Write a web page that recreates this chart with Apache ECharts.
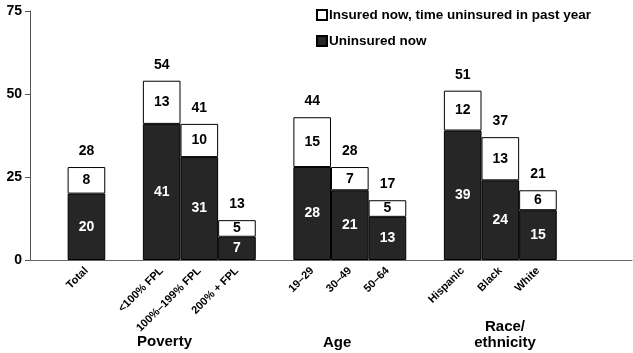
<!DOCTYPE html>
<html>
<head>
<meta charset="utf-8">
<script src="https://cdn.jsdelivr.net/npm/echarts@6/dist/echarts.min.js"></script>
<style>
  html, body { margin: 0; padding: 0; background: #fff; }
  #chart { width: 633px; height: 353px; }
</style>
</head>
<body>
<div id="chart"></div>
<script>
// categories (blank entries are the gaps between groups)
var categories = ['', 'Total', '', '<100% FPL', '100%\u2013199% FPL', '200% + FPL', '',
  '19\u201329', '30\u201349', '50\u201364', '', 'Hispanic', 'Black', 'White', '', ''];
var uninsuredNow = [null, 20, null, 41, 31, 7, null, 28, 21, 13, null, 39, 24, 15, null, null];
var insuredGap = [null, 8, null, 13, 10, 5, null, 15, 7, 5, null, 12, 13, 6, null, null];
var totals = [null, 28, null, 54, 41, 13, null, 44, 28, 17, null, 51, 37, 21, null, null];
var yTicks = [0, 25, 50, 75];

var font = 'Liberation Sans, Arial, sans-serif';

var chart = echarts.init(document.getElementById('chart'));
var option = {
  animation: false,
  textStyle: { fontFamily: font },
  grid: { left: 30, right: 1, top: 11, bottom: 93, containLabel: false },
  legend: {
    orient: 'vertical',
    left: 311,
    top: 3,
    itemWidth: 10,
    itemHeight: 10,
    itemGap: 12,
    icon: 'rect',
    data: ['Insured now, time uninsured in past year', 'Uninsured now'],
    textStyle: { fontFamily: font, fontWeight: 'bold', fontSize: 13.5, color: '#000', padding: [0, 0, 0, -3] }
  },
  xAxis: {
    type: 'category',
    data: categories,
    axisLine: { lineStyle: { color: '#666', width: 1 } },
    axisTick: { show: false },
    axisLabel: {
      interval: 0,
      rotate: 45,
      margin: 9,
      color: '#000',
      fontFamily: font,
      fontWeight: 'bold',
      fontSize: 11
    }
  },
  yAxis: {
    type: 'value',
    min: yTicks[0],
    max: yTicks[yTicks.length - 1],
    interval: 25,
    splitLine: { show: false },
    axisLine: { show: true, lineStyle: { color: '#555', width: 1 } },
    axisTick: { show: true, length: 5, lineStyle: { color: '#555' } },
    axisLabel: { color: '#000', fontFamily: font, fontWeight: 'bold', fontSize: 14, margin: 8 }
  },
  series: [
    {
      name: 'Uninsured now',
      type: 'bar',
      stack: 's',
      barCategoryGap: '0%',
      data: uninsuredNow,
      itemStyle: { color: '#262626', borderColor: '#000', borderWidth: 1 },
      label: {
        show: true, position: 'inside', color: '#fff',
        fontFamily: font, fontWeight: 'bold', fontSize: 14
      }
    },
    {
      name: 'Insured now, time uninsured in past year',
      type: 'bar',
      stack: 's',
      data: insuredGap,
      itemStyle: { color: '#fff', borderColor: '#000', borderWidth: 1 },
      label: {
        show: true, position: 'inside', color: '#000',
        fontFamily: font, fontWeight: 'bold', fontSize: 14
      }
    },
    {
      name: 'total',
      type: 'bar',
      stack: 's',
      data: totals.map(function (t) { return t == null ? null : 0; }),
      itemStyle: { color: 'transparent' },
      label: {
        show: true, position: 'top', distance: 9, color: '#000',
        fontFamily: font, fontWeight: 'bold', fontSize: 14,
        formatter: function (p) { return totals[p.dataIndex]; }
      }
    }
  ],
  graphic: [
    { type: 'text', left: 137, top: 334, style: { text: 'Poverty', font: 'bold 15px ' + font, fill: '#000' } },
    { type: 'text', left: 323, top: 335, style: { text: 'Age', font: 'bold 15px ' + font, fill: '#000' } },
    { type: 'text', x: 505, y: 319, style: { text: 'Race/\nethnicity', font: 'bold 15px ' + font, fill: '#000', align: 'center', lineHeight: 16 } }
  ]
};
chart.setOption(option);
</script>
</body>
</html>
